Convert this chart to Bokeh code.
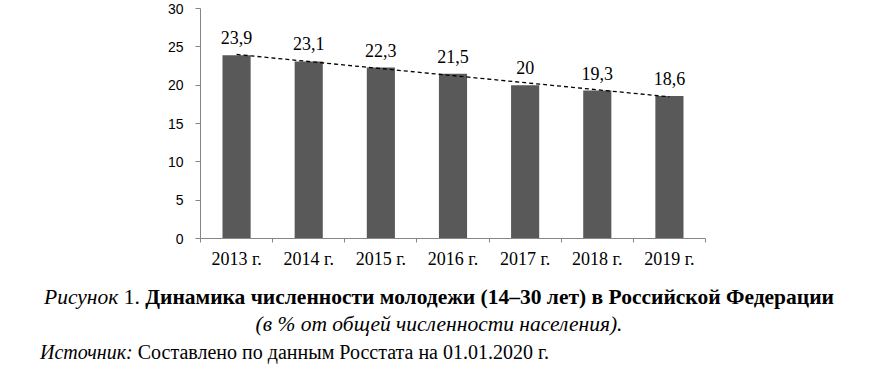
from bokeh.plotting import figure
from bokeh.models import ColumnDataSource, FixedTicker, LabelSet, Div
from bokeh.layouts import column
from bokeh.embed import file_html
from bokeh.resources import INLINE
import numpy as np

# ---- data ----
years = ["2013 г.", "2014 г.", "2015 г.", "2016 г.", "2017 г.", "2018 г.", "2019 г."]
values = [23.9, 23.1, 22.3, 21.5, 20.0, 19.3, 18.6]
y_ticks = [0, 5, 10, 15, 20, 25, 30]

caption_fig = "Рисунок"
caption_num = "1."
caption_title = "Динамика численности молодежи (14–30 лет) в Российской Федерации"
caption_sub = "(в % от общей численности населения)."
source_lbl = "Источник:"
source_txt = "Составлено по данным Росстата на 01.01.2020 г."

# ---- derived ----
xs = list(range(len(years)))
labels = [f"{v:g}".replace(".", ",") for v in values]
slope, intercept = np.polyfit(xs, values, 1)
trend = [intercept + slope * x for x in xs]

src = ColumnDataSource(dict(x=xs, top=values, lab=labels))

SERIF = "Liberation Serif"
AXIS_C = "#868686"

p = figure(
    frame_width=505, frame_height=230,
    min_border_left=200, min_border_right=190, min_border_top=8, min_border_bottom=46,
    x_range=(-0.5, len(years) - 0.5), y_range=(0, 30),
    output_backend="svg", toolbar_location=None, tools="",
)
p.outline_line_color = None
p.grid.grid_line_color = None
p.background_fill_color = "white"
p.border_fill_color = "white"

p.vbar(x="x", top="top", width=0.39, source=src, fill_color="#595959", line_color=None)
p.line(xs, trend, line_color="black", line_width=1.3, line_dash="4 3")

p.add_layout(LabelSet(x="x", y="top", text="lab", source=src, y_offset=11,
                      text_align="center", text_baseline="alphabetic",
                      text_font=SERIF, text_font_size="18px", text_color="black"))

# x axis
p.xaxis.ticker = FixedTicker(ticks=xs, minor_ticks=[x - 0.5 for x in range(len(years) + 1)])
p.xaxis.major_label_overrides = {x: y for x, y in zip(xs, years)}
p.xaxis.major_tick_line_color = None
p.xaxis.major_tick_out = 4
p.xaxis.major_tick_in = 0
p.xaxis.minor_tick_line_color = AXIS_C
p.xaxis.minor_tick_out = 4
p.xaxis.minor_tick_in = 0
p.xaxis.axis_line_color = AXIS_C
p.xaxis.major_label_text_font = SERIF
p.xaxis.major_label_text_font_size = "18px"
p.xaxis.major_label_text_color = "black"
p.xaxis.major_label_standoff = 6

# y axis
p.yaxis.ticker = FixedTicker(ticks=y_ticks)
p.yaxis.major_tick_out = 5
p.yaxis.major_tick_in = 0
p.yaxis.major_tick_line_color = AXIS_C
p.yaxis.minor_tick_line_color = None
p.yaxis.axis_line_color = AXIS_C
p.yaxis.major_label_text_font = "Liberation Sans"
p.yaxis.major_label_text_font_size = "14px"
p.yaxis.major_label_text_color = "black"
p.yaxis.major_label_standoff = 12

html = (
    f'<div style="font-family:\'{SERIF}\'; line-height:27px; color:#000; width:895px">'
    f'<div style="text-align:center; padding-right:17px; font-size:21.5px"><i>{caption_fig}</i> {caption_num} <b>{caption_title}</b></div>'
    f'<div style="text-align:center; padding-right:17px; font-size:21.5px"><i>{caption_sub}</i></div>'
    f'<div style="padding-left:40px; font-size:20px; line-height:29px"><i>{source_lbl}</i> {source_txt}</div>'
    '</div>'
)
div = Div(text=html, width=895, margin=(0, 0, 0, 0))

layout = column(p, div, spacing=0)
open("out.html", "w").write(file_html(layout, INLINE))
